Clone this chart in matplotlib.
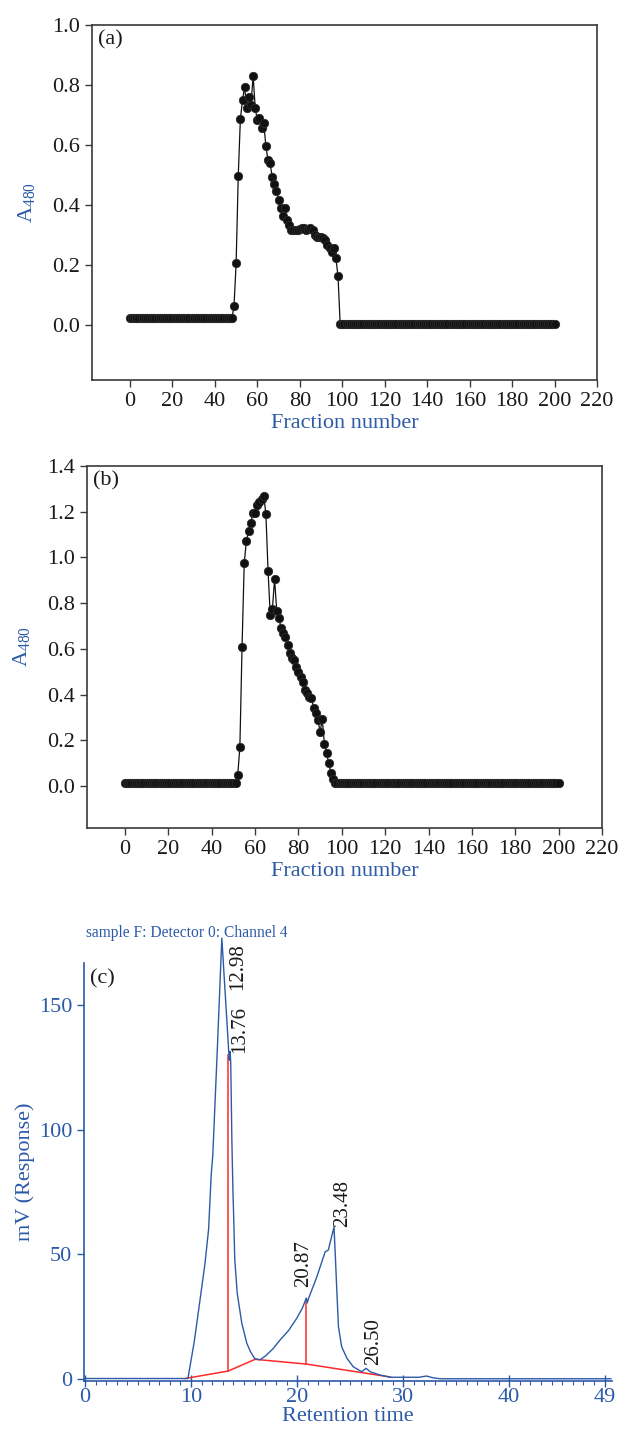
import matplotlib.pyplot as plt
from matplotlib.ticker import MultipleLocator

plt.rcParams['font.family'] = ['Liberation Serif', 'DejaVu Serif']
plt.rcParams['mathtext.fontset'] = 'custom'
plt.rcParams['mathtext.rm'] = 'Liberation Serif'

BLUE = '#2c5aa8'
RED = '#ff2a2a'

# ---- panel (a): absorbance per fraction
base_a_before = 0.022
base_a_after = 0.004
peak_a = [0.064, 0.206, 0.498, 0.687, 0.75, 0.794, 0.722, 0.761, 0.733, 0.831,
          0.722, 0.683, 0.689, 0.656, 0.672, 0.598, 0.55, 0.539, 0.494, 0.47,
          0.447, 0.417, 0.389, 0.363, 0.389, 0.35, 0.333, 0.317, 0.317, 0.317,
          0.317, 0.32, 0.322, 0.322, 0.317, 0.32, 0.322, 0.317, 0.30, 0.294,
          0.294, 0.292, 0.29, 0.285, 0.267, 0.256, 0.245, 0.256, 0.222, 0.163]
a480_a = [base_a_before] * 49 + peak_a + [base_a_after] * 102
frac_a = list(range(len(a480_a)))

# ---- panel (b)
base_b = 0.015
peak_b = [0.047, 0.17, 0.609, 0.974, 1.073, 1.115, 1.149, 1.193, 1.193, 1.229,
          1.244, 1.254, 1.269, 1.19, 0.94, 0.748, 0.774, 0.905, 0.767, 0.733,
          0.692, 0.668, 0.653, 0.617, 0.58, 0.559, 0.551, 0.522, 0.5, 0.478,
          0.456, 0.42, 0.405, 0.39, 0.387, 0.34, 0.318, 0.289, 0.237, 0.292,
          0.182, 0.143, 0.099, 0.055, 0.029, 0.012]
a480_b = [base_b] * 52 + peak_b + [base_b] * 103
frac_b = list(range(len(a480_b)))

frac_ticks = list(range(0, 221, 20))

# ---- panel (c): HPLC trace
ret_time = [0.0, 9.7, 10.3, 10.85, 11.3, 11.65, 11.9, 12.05, 12.5, 12.9,
            13.6, 13.68, 13.74, 13.85, 13.95, 14.02, 14.12, 14.35, 14.78, 15.25,
            15.6, 16.0, 16.5, 17.0, 17.7, 18.4, 19.2, 19.97, 20.5, 20.87,
            20.95, 21.05, 21.86, 22.64, 22.95, 23.1, 23.48, 23.6, 23.75, 23.9,
            24.2, 24.7, 25.3, 26.1, 26.5, 26.9, 27.8, 28.8, 31.5, 32.2,
            32.8, 33.5, 49.6]
response = [0.2, 0.2, 15, 32, 46, 60, 82, 90, 135, 177,
            128, 131.5, 127, 95, 75, 65, 48, 34.5, 22.5, 14.4,
            11, 8.2, 7.7, 9.2, 12, 15.7, 19.5, 24.4, 28.5, 32.5,
            30.5, 32, 41, 51, 51.8, 54.5, 61, 50, 35, 21,
            13, 8.3, 4.9, 2.9, 4.3, 2.9, 1.6, 0.7, 0.7, 1.2,
            0.5, 0.1, 0.1]
base_t = [9.45, 13.5, 16.04, 20.87, 28.8]
base_mv = [0.2, 3.2, 7.9, 6.0, 0.8]
drop_t = [13.5, 20.87]
drop_low = [3.2, 6.0]
drop_high = [130, 31]
peak_labels = ['12.98', '13.76', '20.87', '23.48', '26.50']
ret_ticks = [0, 10, 20, 30, 40, 49]
mv_ticks = [0, 50, 100, 150]

W, H = 622, 1430
fig = plt.figure(figsize=(W / 100, H / 100), dpi=100)


def box(l, t, r, b):
    return [l / W, 1 - b / H, (r - l) / W, (b - t) / H]


def fraction_panel(ax, x, y, ymin, ymax, tag):
    ax.plot(x, y, '-', color='#111111', lw=0.9, marker='o', ms=6,
            mfc='#111111', mec='#2a2a2a', mew=0.6)
    ax.set_xlim(-17.9, 220)
    ax.set_ylim(ymin, ymax)
    ax.set_xticks(frac_ticks)
    ax.set_yticks([v / 10 for v in range(0, int(round(ymax * 10)) + 1, 2)])
    ax.yaxis.set_major_formatter(plt.FormatStrFormatter('%.1f'))
    for s in ax.spines.values():
        s.set_color('#3a3a3a')
        s.set_linewidth(1.2)
    ax.tick_params(direction='out', length=5, width=1, colors='#3a3a3a',
                   labelcolor='#1a1a1a', labelsize=16)
    ax.set_xlabel('Fraction number', color=BLUE, fontsize=16, labelpad=2)
    ax.set_ylabel(r'A$_{\mathrm{480}}$', color=BLUE, fontsize=16, labelpad=10)
    ax.text(0.012, 0.985, tag, transform=ax.transAxes, ha='left', va='top',
            fontsize=16, color='#1a1a1a')


ax_a = fig.add_axes(box(92, 25, 597, 380))
fraction_panel(ax_a, frac_a, a480_a, -0.183, 1.0, '(a)')

ax_b = fig.add_axes(box(87, 466, 602, 828))
fraction_panel(ax_b, frac_b, a480_b, -0.184, 1.4, '(b)')
ax_b.set_xlim(-17.5, 220)

# ---- chromatogram
ax_c = fig.add_axes(box(84, 963, 612, 1381))
ax_c.plot(ret_time, response, color=BLUE, lw=1.0, clip_on=False, zorder=3)
ax_c.plot(base_t, base_mv, color=RED, lw=1.1, zorder=2)
for t, lo, hi in zip(drop_t, drop_low, drop_high):
    ax_c.plot([t, t], [lo, hi], color=RED, lw=1.1, zorder=2)

label_pos = [(14.43, 156), (14.62, 131), (20.57, 37), (24.25, 61), (27.2, 5.6)]
for txt, (x, y) in zip(peak_labels, label_pos):
    ax_c.text(x, y, txt, rotation=90, ha='center', va='bottom', fontsize=15,
              color='#1a1a1a', clip_on=False)

ax_c.set_xlim(-0.1, 49.7)
ax_c.set_ylim(-0.8, 167)
ax_c.set_xticks(ret_ticks)
ax_c.xaxis.set_minor_locator(MultipleLocator(1))
ax_c.set_yticks(mv_ticks)
for side in ['top', 'right']:
    ax_c.spines[side].set_visible(False)
for side in ['left', 'bottom']:
    ax_c.spines[side].set_color(BLUE)
    ax_c.spines[side].set_linewidth(1.2)
ax_c.tick_params(axis='x', which='major', direction='inout', length=8,
                 width=1, colors=BLUE, labelsize=16, pad=1)
ax_c.tick_params(axis='x', which='minor', direction='out', length=3,
                 width=0.8, colors=BLUE)
ax_c.tick_params(axis='y', direction='out', length=5, width=1, colors=BLUE,
                 labelsize=16)
ax_c.set_xlabel('Retention time', color=BLUE, fontsize=16, labelpad=0)
ax_c.set_ylabel('mV (Response)', color=BLUE, fontsize=16, labelpad=3)
ax_c.text(0.012, 0.985, '(c)', transform=ax_c.transAxes, ha='left', va='top',
          fontsize=16, color='#1a1a1a')
fig.text(86 / W, 1 - 937 / H, 'sample F: Detector 0: Channel 4', ha='left',
         va='baseline', fontsize=11.2, color=BLUE)

fig.savefig('out.png', dpi=100)
